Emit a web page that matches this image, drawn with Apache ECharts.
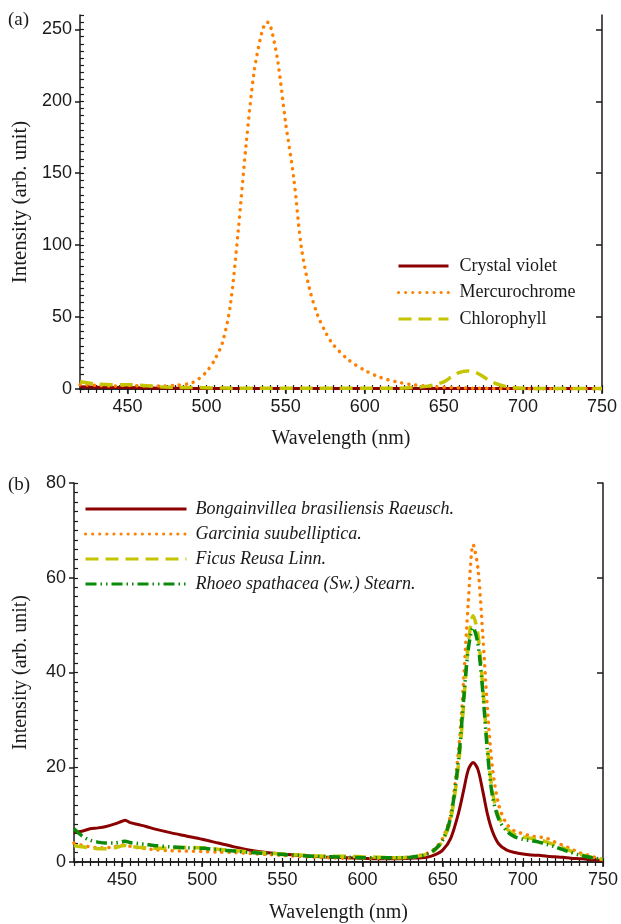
<!DOCTYPE html>
<html><head><meta charset="utf-8">
<script src="https://cdn.jsdelivr.net/npm/echarts@6/dist/echarts.min.js"></script>
<style>html,body{margin:0;padding:0;background:#fff}#c{width:621px;height:924px}</style>
</head><body><div id="c"></div>
<script>
// ---------- Panel (a) data ----------
const waveA = [420,430,440,450,460,470,480,490,495,500,505,510,515,520,525,530,535,538,540,545,550,555,560,565,570,575,580,590,600,610,620,630,640,645,650,655,660,665,670,675,680,685,690,700,710,720,730,740,750];
const crystalViolet = [1.5,1.2,1,1,0.8,0.6,0.5,0.4,0.4,0.3,0.3,0.3,0.3,0.3,0.3,0.3,0.3,0.3,0.3,0.3,0.3,0.3,0.3,0.3,0.3,0.3,0.3,0.3,0.3,0.3,0.3,0.3,0.3,0.3,0.3,0.3,0.3,0.3,0.3,0.3,0.3,0.3,0.3,0.3,0.3,0.3,0.3,0.3,0.3];
const mercurochrome = [3,2.5,2,2.5,2,2,2.5,4,7,12,20,32,58,110,170,220,248,255,254,228,185,148,98,70,52,40,31,20,13,8,5,3,2,1.6,1.2,1,0.8,0.6,0.5,0.5,0.4,0.4,0.3,0.2,0.2,0.2,0.2,0.2,0.2];
const chlorophyll = [5,3.5,3,3,2.5,1.5,1.2,1,1,0.8,0.7,0.7,0.6,0.6,0.6,0.6,0.6,0.6,0.6,0.6,0.5,0.5,0.5,0.5,0.5,0.5,0.5,0.5,0.5,0.5,0.5,1,2,3.2,5,8.5,11.5,12.5,11.5,8.5,5,3,1.5,0.5,0.3,0.3,0.3,0.3,0.3];

// ---------- Panel (b) data ----------
const waveB = [420,425,430,435,440,445,450,452,455,460,465,470,480,490,500,510,520,530,540,550,560,570,580,590,600,610,620,630,640,645,650,655,660,663,666,669,672,675,678,681,685,690,695,700,705,710,715,720,725,730,735,740,745,750];
const bongainvillea = [6.3,6.5,7,7.2,7.5,8,8.6,8.8,8.3,7.9,7.5,7,6.2,5.5,4.8,4,3.2,2.5,2,1.7,1.4,1.2,1,0.9,0.8,0.7,0.7,0.8,1,1.5,2.5,5,10.5,15,19.5,21,19.5,15,10,6.5,3.8,2.5,2,1.7,1.5,1.4,1.2,1.1,1,0.8,0.7,0.6,0.4,0.3];
const garcinia = [4,3.5,3.2,3,3,3.2,3.6,3.5,3.3,3,2.8,2.6,2.4,2.3,2.2,2.1,2,1.8,1.6,1.4,1.2,1,0.9,0.8,0.8,0.8,0.9,1.1,1.8,2.8,5,10,24,38,55,67,62,48,32,20,12,8,6.5,6,5.5,5.3,5,4.2,3.5,2.8,2,1.5,1,0.5];
const ficus = [3.5,3.2,3,2.8,2.8,3,3.4,3.5,3.3,3.1,3,2.9,2.9,3.1,3,2.7,2.4,2.1,1.9,1.7,1.5,1.3,1.2,1.2,1.1,1,0.9,1,1.6,2.5,4.5,9,21,33,46,52,48,37,24,15,9.5,7,5.8,5.3,5,4.7,4.2,3.6,3,2.3,1.7,1.2,0.8,0.5];
const rhoeo = [7,5.5,4.6,4.2,4,4,4.3,4.4,4.1,3.9,3.7,3.5,3.2,3,2.9,2.6,2.3,2,1.8,1.6,1.4,1.2,1.1,1,0.9,0.9,0.9,1,1.6,2.6,4.6,9.5,22,34,45,49.5,46,36,23,14,9,6.5,5.3,4.8,4.5,4.2,3.7,3.2,2.6,2,1.5,1.1,0.8,0.6];

// ---------- Tick labels ----------
const xTickValues = [450,500,550,600,650,700,750];
const yTickValuesA = [0,50,100,150,200,250];
const yTickValuesB = [0,20,40,60,80];

const pairs = (xs, ys) => xs.map((x, i) => [x, ys[i]]);

const SANS = '"Liberation Sans", Arial, sans-serif';
const SERIF = '"Liberation Serif", "Times New Roman", serif';
const INK = '#1a1a1a';

const C_RED = '#8b0000', C_ORANGE = '#ff7f00', C_YEL = '#c4c400', C_GREEN = '#0a8a0a';

function mainX(grid, nameGap) {
  return {type:'value', gridIndex:grid, position:'bottom', min:420, max:750,
    name:'Wavelength (nm)', nameLocation:'middle', nameGap:nameGap,
    nameTextStyle:{fontFamily:SERIF, fontSize:20, color:INK},
    axisLine:{show:true, lineStyle:{color:INK, width:1.5}},
    axisTick:{show:true, inside:false, length:5, customValues:xTickValues, lineStyle:{color:INK, width:1.5}},
    axisLabel:{show:true, customValues:xTickValues, margin:9, fontFamily:SANS, fontSize:18, color:INK},
    splitLine:{show:false}};
}
function minorX(grid) {
  return {type:'value', gridIndex:grid, position:'bottom', min:420, max:750, interval:5,
    axisLine:{show:false}, axisLabel:{show:false}, splitLine:{show:false},
    axisTick:{show:true, inside:true, length:4, lineStyle:{color:INK, width:1.2}}};
}
function topX(grid) {
  return {type:'value', gridIndex:grid, position:'top', min:420, max:750, interval:5,
    axisLine:{show:true, lineStyle:{color:INK, width:1.5}}, axisLabel:{show:false}, splitLine:{show:false},
    axisTick:{show:true, inside:true, length:4, lineStyle:{color:INK, width:1.2}}};
}
function mainY(grid, max, ticks, nameGap, nameSize) {
  return {type:'value', gridIndex:grid, position:'left', min:0, max:max,
    name:'Intensity (arb. unit)', nameLocation:'middle', nameGap:nameGap, nameRotate:90,
    nameTextStyle:{fontFamily:SERIF, fontSize:nameSize, color:INK},
    axisLine:{show:true, lineStyle:{color:INK, width:1.5}},
    axisTick:{show:true, inside:false, length:5, customValues:ticks, lineStyle:{color:INK, width:1.5}},
    axisLabel:{show:true, customValues:ticks, margin:8, fontFamily:SANS, fontSize:18, color:INK},
    splitLine:{show:false}};
}
function minorY(grid, max, step) {
  return {type:'value', gridIndex:grid, position:'left', min:0, max:max, interval:step,
    axisLine:{show:false}, axisLabel:{show:false}, splitLine:{show:false},
    axisTick:{show:true, inside:true, length:4, lineStyle:{color:INK, width:1.2}}};
}
function rightY(grid, max, ticks) {
  return {type:'value', gridIndex:grid, position:'right', min:0, max:max,
    axisLine:{show:true, lineStyle:{color:INK, width:1.5}}, axisLabel:{show:false}, splitLine:{show:false},
    axisTick:{show:true, inside:true, length:6, customValues:ticks, lineStyle:{color:INK, width:1.5}}};
}

function lineSeries(name, xi, yi, data, color, type, width, cap) {
  return {type:'line', name:name, xAxisIndex:xi, yAxisIndex:yi, data:data,
    symbol:'none', smooth:0.3, animation:false, color:color,
    itemStyle:{color:color},
    lineStyle:{color:color, width:width, type:type, cap:cap || 'butt'}};
}

const DOT = [0.1, 7];
const DASH = [13, 7];
const DASHDOTDOT = [11, 4, 1.5, 4, 1.5, 4];

const option = {
  backgroundColor:'#fff',
  animation:false,
  grid:[
    {left:80, top:15, width:522, height:374},
    {left:74, top:483, width:529, height:380}
  ],
  xAxis:[mainX(0, 40), minorX(0), topX(0), mainX(1, 41), minorX(1), topX(1)],
  yAxis:[mainY(0, 260, yTickValuesA, 49, 21), minorY(0, 260, 5), rightY(0, 260, yTickValuesA),
         mainY(1, 80, yTickValuesB, 43, 20), minorY(1, 80, 2), rightY(1, 80, yTickValuesB)],
  legend:[
    {data:['Crystal violet','Mercurochrome','Chlorophyll'], orient:'vertical', left:397, top:257,
     itemWidth:50, itemHeight:14, itemGap:8.5, padding:0, selectedMode:false,
     itemStyle:{color:'rgba(0,0,0,0)', borderWidth:0, opacity:0},
     lineStyle:{width:3},
     textStyle:{fontFamily:SERIF, fontSize:18, color:INK, padding:[0,0,0,6]}},
    {data:['Bongainvillea brasiliensis Raeusch.','Garcinia suubelliptica.','Ficus Reusa Linn.','Rhoeo spathacea (Sw.) Stearn.'],
     orient:'vertical', left:84, top:500, itemWidth:101, itemHeight:14, itemGap:7, padding:0, selectedMode:false,
     itemStyle:{color:'rgba(0,0,0,0)', borderWidth:0, opacity:0},
     lineStyle:{width:3},
     textStyle:{fontFamily:SERIF, fontStyle:'italic', fontSize:18, color:INK, padding:[0,0,0,4]}}
  ],
  graphic:[
    {type:'text', left:8, top:11, style:{text:'(a)', font:'19px "Liberation Serif", serif', fill:INK}},
    {type:'text', left:8, top:476, style:{text:'(b)', font:'19px "Liberation Serif", serif', fill:INK}}
  ],
  series:[
    lineSeries('Crystal violet', 0, 0, pairs(waveA, crystalViolet), C_RED, 'solid', 3),
    lineSeries('Mercurochrome', 0, 0, pairs(waveA, mercurochrome), C_ORANGE, DOT, 3.5, 'round'),
    lineSeries('Chlorophyll', 0, 0, pairs(waveA, chlorophyll), C_YEL, DASH, 3.5),
    lineSeries('Bongainvillea brasiliensis Raeusch.', 3, 3, pairs(waveB, bongainvillea), C_RED, 'solid', 3),
    lineSeries('Garcinia suubelliptica.', 3, 3, pairs(waveB, garcinia), C_ORANGE, DOT, 3.5, 'round'),
    lineSeries('Ficus Reusa Linn.', 3, 3, pairs(waveB, ficus), C_YEL, DASH, 3.5),
    lineSeries('Rhoeo spathacea (Sw.) Stearn.', 3, 3, pairs(waveB, rhoeo), C_GREEN, DASHDOTDOT, 3.5)
  ]
};

const chart = echarts.init(document.getElementById('c'), null, {renderer:'canvas'});
chart.setOption(option);
</script>
</body></html>
